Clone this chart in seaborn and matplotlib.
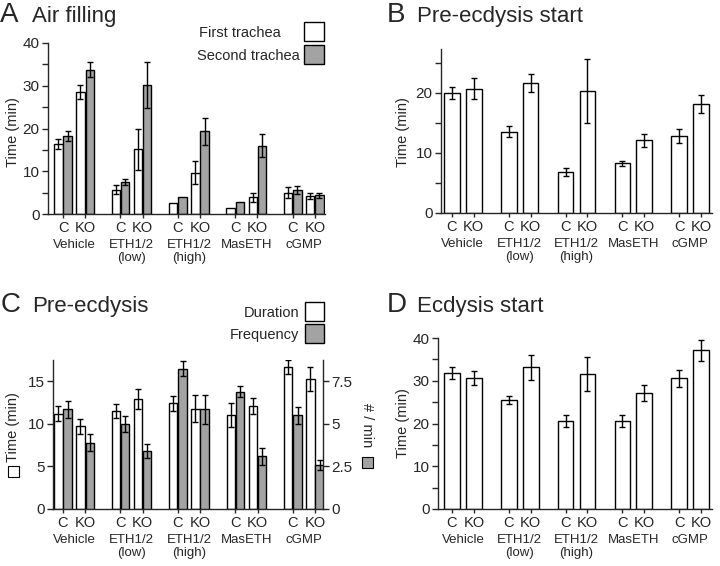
import numpy as np
import pandas as pd
import seaborn as sns
import matplotlib.pyplot as plt
from matplotlib.patches import Rectangle
from matplotlib.ticker import MultipleLocator

sns.set_style("ticks")
plt.rcParams['font.family'] = ['Liberation Sans', 'DejaVu Sans']

groups = ["Vehicle", "ETH1/2\n(low)", "ETH1/2\n(high)", "MasETH", "cGMP"]
genotypes = ["C", "KO"]

# A: air filling time (min), order C, KO per group
air_first = [16.4, 28.5, 5.7, 15.1, 2.5, 9.7, 1.4, 3.9, 5.0, 4.2]
air_first_err = [1.1, 1.6, 1.1, 4.9, 0, 2.7, 0, 1.1, 1.2, 0.8]
air_second = [18.2, 33.8, 7.4, 30.2, 3.9, 19.3, 2.7, 16.0, 5.6, 4.4]
air_second_err = [1.1, 1.7, 0.7, 5.3, 0, 3.2, 0, 2.6, 1.0, 0.6]

# B: pre-ecdysis start (min)
pre_start = [20.0, 20.7, 13.5, 21.7, 6.8, 20.3, 8.3, 12.1, 12.8, 18.2]
pre_start_err = [1.0, 1.7, 0.9, 1.5, 0.7, 5.4, 0.4, 1.1, 1.2, 1.5]

# C: pre-ecdysis duration (min) and frequency (# / min)
duration = [11.2, 9.7, 11.5, 12.9, 12.4, 11.8, 11.0, 12.1, 16.7, 15.3]
duration_err = [0.9, 0.9, 0.8, 1.2, 0.9, 1.6, 1.4, 0.9, 0.8, 1.4]
frequency = [5.85, 3.9, 5.0, 3.4, 8.25, 5.85, 6.9, 3.1, 5.5, 2.6]
frequency_err = [0.5, 0.5, 0.45, 0.4, 0.45, 0.85, 0.35, 0.5, 0.5, 0.3]

# D: ecdysis start (min)
ecd_start = [31.8, 30.6, 25.5, 33.1, 20.5, 31.6, 20.5, 27.1, 30.6, 37.1]
ecd_start_err = [1.5, 1.7, 1.0, 2.9, 1.4, 4.0, 1.4, 1.8, 2.0, 2.5]

GRAY = "#a3a3a3"
W, H = 720, 566
GAP = 2.6  # distance between treatment groups
pos = np.array([g * GAP + p for g in range(len(groups)) for p in range(len(genotypes))])


def px_rect(x0, y0, x1, y1):
    # pixel box -> figure fraction [left, bottom, width, height]
    return [x0 / W, 1 - y1 / H, (x1 - x0) / W, (y1 - y0) / H]


def draw_bars(ax, x, vals, errs, color, width):
    df = pd.DataFrame({"x": x, "val": vals})
    sns.barplot(data=df, x="x", y="val", native_scale=True, width=width,
                color=color, saturation=1, edgecolor="black", linewidth=1,
                errorbar=None, ax=ax)
    errs = np.asarray(errs)
    m = errs > 0
    ax.errorbar(np.asarray(x)[m], np.asarray(vals)[m], yerr=errs[m], fmt="none",
                ecolor="black", elinewidth=1, capsize=2, capthick=1)
    ax.set_xlabel("")
    ax.set_ylabel("")


def style_axis(ax, xlim, ylim, major, minor=None):
    ax.set_xlim(xlim)
    ax.set_ylim(ylim)
    ax.set_xticks(pos, genotypes * len(groups))
    ax.tick_params(axis="x", length=3, width=1, labelsize=10.5, pad=2)
    ax.yaxis.set_major_locator(MultipleLocator(major))
    if minor:
        ax.yaxis.set_minor_locator(MultipleLocator(minor))
    ax.tick_params(axis="y", which="both", length=4, width=1, labelsize=11, pad=2)
    for sp in ax.spines.values():
        sp.set_linewidth(1)
    for g, name in enumerate(groups):
        ax.annotate(name, xy=(g * GAP + 0.5, 0), xycoords=("data", "axes fraction"),
                    xytext=(0, -18), textcoords="offset points",
                    ha="center", va="top", fontsize=9.5, linespacing=1.1)
    sns.despine(ax=ax)


def panel_title(fig, letter, title, x_letter, x_title, y_base):
    fig.text(x_letter / W, 1 - y_base / H, letter, fontsize=20, va="baseline")
    fig.text(x_title / W, 1 - y_base / H, title, fontsize=16, va="baseline")


def legend_box(fig, text, x_text, y_base, box, color):
    fig.text(x_text / W, 1 - y_base / H, text, fontsize=10.5, ha="right", va="baseline")
    x0, y0, x1, y1 = box
    fig.add_artist(Rectangle((x0 / W, 1 - y1 / H), (x1 - x0) / W, (y1 - y0) / H,
                             transform=fig.transFigure, facecolor=color,
                             edgecolor="black", linewidth=1))


fig = plt.figure(figsize=(7.2, 5.66), dpi=100)

# ---- A: air filling
axA = fig.add_axes(px_rect(48, 43, 325, 214))
draw_bars(axA, pos - 0.21, air_first, air_first_err, "white", 0.38)
draw_bars(axA, pos + 0.21, air_second, air_second_err, GRAY, 0.38)
style_axis(axA, (-0.68, 11.86), (0, 40), 10, 5)
panel_title(fig, "A", "Air filling", 0, 32, 22)
legend_box(fig, "First trachea", 281, 37, (304, 22, 324, 41), "white")
legend_box(fig, "Second trachea", 300, 60, (304, 45, 324, 64), GRAY)
fig.text(13 / W, 1 - 132 / H, "Time (min)", rotation=90, ha="center", va="center", fontsize=10.5)

# ---- B: pre-ecdysis start
axB = fig.add_axes(px_rect(441, 49, 712, 213))
draw_bars(axB, pos, pre_start, pre_start_err, "white", 0.72)
style_axis(axB, (-0.5, 11.9), (0, 27.3), 10, 5)
panel_title(fig, "B", "Pre-ecdysis start", 387, 417, 22)
fig.text(403 / W, 1 - 132 / H, "Time (min)", rotation=90, ha="center", va="center", fontsize=10.5)

# ---- C: pre-ecdysis duration + frequency (right axis)
axC = fig.add_axes(px_rect(53, 360, 323, 509))
draw_bars(axC, pos - 0.21, duration, duration_err, "white", 0.38)
style_axis(axC, (-0.45, 11.76), (0, 17.5), 5)
axC2 = axC.twinx()
draw_bars(axC2, pos + 0.21, frequency, frequency_err, GRAY, 0.38)
axC2.set_xlim(-0.45, 11.76)
axC2.set_ylim(0, 8.75)
axC2.set_yticks([0, 2.5, 5, 7.5], ["0", "2.5", "5", "7.5"])
axC2.tick_params(axis="y", length=4, width=1, labelsize=11, pad=2)
for side in ["top", "left", "bottom"]:
    axC2.spines[side].set_visible(False)
axC2.spines["right"].set_linewidth(1)
panel_title(fig, "C", "Pre-ecdysis", 1, 32, 312)
legend_box(fig, "Duration", 299, 317, (305, 302, 324, 321), "white")
legend_box(fig, "Frequency", 299, 339, (305, 324, 324, 343), GRAY)
fig.text(13 / W, 1 - 427 / H, "Time (min)", rotation=90, ha="center", va="center", fontsize=10.5)
fig.add_artist(Rectangle((8 / W, 1 - 477 / H), 11 / W, 11 / H, transform=fig.transFigure,
                         facecolor="white", edgecolor="black", linewidth=0.8))
fig.text(367 / W, 1 - 425 / H, "# / min", rotation=270, ha="center", va="center", fontsize=10.5)
fig.add_artist(Rectangle((362 / W, 1 - 468 / H), 11 / W, 11 / H, transform=fig.transFigure,
                         facecolor=GRAY, edgecolor="black", linewidth=0.8))

# ---- D: ecdysis start
axD = fig.add_axes(px_rect(438, 338, 712, 509))
draw_bars(axD, pos, ecd_start, ecd_start_err, "white", 0.72)
style_axis(axD, (-0.64, 11.9), (0, 40), 10, 5)
panel_title(fig, "D", "Ecdysis start", 387, 417, 312)
fig.text(403 / W, 1 - 423 / H, "Time (min)", rotation=90, ha="center", va="center", fontsize=10.5)

fig.savefig("out.png", dpi=100)
